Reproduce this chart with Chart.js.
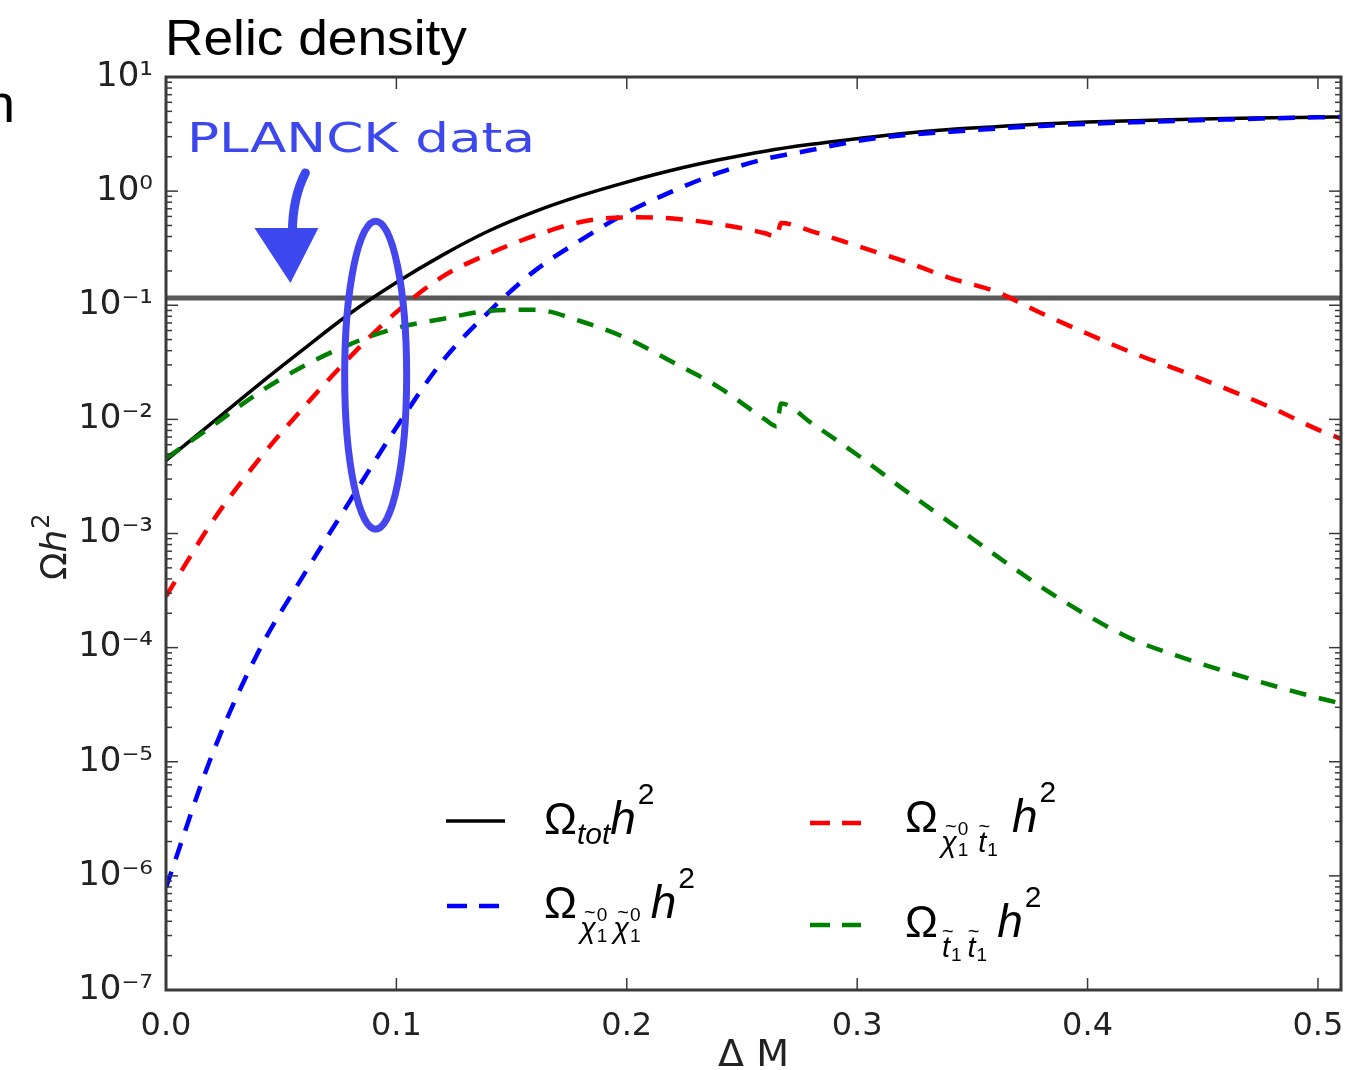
<!DOCTYPE html>
<html>
<head>
<meta charset="utf-8">
<script src="https://cdn.jsdelivr.net/npm/chart.js@4.4.0/dist/chart.umd.min.js"></script>
<style>
  html, body { margin: 0; padding: 0; background: #fff; overflow: hidden; }
  canvas { display: block; }
</style>
</head>
<body>
<canvas id="relic" width="1346" height="1070"></canvas>
<script>
// ΔM grid for the smooth curves (total and neutralino-neutralino)
var dmSmooth = [0, 0.02, 0.04, 0.06, 0.08, 0.10, 0.12, 0.14, 0.16, 0.18, 0.20, 0.22, 0.24, 0.26,
                0.28, 0.30, 0.32, 0.34, 0.36, 0.38, 0.40, 0.42, 0.44, 0.46, 0.48, 0.50, 0.51];
var omegaTot = [0.00437, 0.00933, 0.0200, 0.0417, 0.0851, 0.158, 0.275, 0.447, 0.661, 0.912, 1.20, 1.53,
                1.88, 2.24, 2.57, 2.88, 3.20, 3.47, 3.67, 3.87, 4.03, 4.14, 4.24, 4.32, 4.39, 4.44, 4.47];
var omegaChiChi = [7.9e-7, 1.15e-5, 9.1e-5, 4.4e-4, 1.95e-3, 8.5e-3, 0.0324, 0.0871, 0.200, 0.372, 0.646,
                   1.00, 1.45, 1.91, 2.29, 2.75, 3.09, 3.31, 3.53, 3.73, 3.89, 4.01, 4.13, 4.24, 4.34, 4.43, 4.47];

// ΔM grid for the coannihilation curves (they have a small jump near 0.266)
var dmCoann = [0, 0.02, 0.04, 0.06, 0.08, 0.10, 0.12, 0.14, 0.16, 0.18, 0.20, 0.22, 0.24, 0.26, 0.265, 0.267,
               0.28, 0.30, 0.32, 0.34, 0.36, 0.38, 0.40, 0.42, 0.44, 0.46, 0.48, 0.50, 0.51];
var omegaChiStop = [2.82e-4, 1.26e-3, 4.37e-3, 0.0129, 0.0355, 0.0871, 0.178, 0.282, 0.407, 0.537, 0.589,
                    0.575, 0.513, 0.427, 0.398, 0.525, 0.447, 0.331, 0.245, 0.174, 0.132, 0.0851, 0.0562,
                    0.0380, 0.0269, 0.0186, 0.0126, 0.00813, 0.00676];
var omegaStopStop = [4.57e-3, 8.71e-3, 0.0170, 0.0295, 0.0457, 0.0631, 0.0759, 0.0891, 0.0912, 0.0724,
                     0.0513, 0.0316, 0.0191, 0.0100, 8.71e-3, 0.0138, 9.33e-3, 4.90e-3, 2.45e-3, 1.26e-3,
                     6.46e-4, 3.39e-4, 1.91e-4, 1.17e-4, 8.32e-5, 6.17e-5, 4.68e-5, 3.63e-5, 3.24e-5];

var planckValue = 0.116;
var xTicks = [0, 0.1, 0.2, 0.3, 0.4, 0.5];
var yExponents = [-7, -6, -5, -4, -3, -2, -1, 0, 1];

// hand-drawn marks, placed in data coordinates
var ellipseAt = { x: 0.091, y: 0.0244 };
var arrowTipAt = { x: 0.054, y: 0.157 };

var SANS = '"Liberation Sans", Arial, sans-serif';
var DEJA = '"DejaVu Sans", sans-serif';
var supMap = { '-': '\u207B', '0': '\u2070', '1': '\u00B9', '2': '\u00B2', '3': '\u00B3',
               '4': '\u2074', '5': '\u2075', '6': '\u2076', '7': '\u2077' };

function pts(xs, ys) {
  return xs.map(function (x, i) { return { x: x, y: ys[i] }; });
}

function run(ctx, x, y, s, size, italic, fam) {
  ctx.font = (italic ? 'italic ' : '') + size + 'px ' + (fam || SANS);
  ctx.fillText(s, x, y);
  return x + ctx.measureText(s).width;
}

// symbol with tilde plus optional super/sub script, e.g. chi~^0_1
function tildeSym(ctx, x, base, ch, sup, sub) {
  ctx.font = 'italic 29px ' + SANS;
  var w = ctx.measureText(ch).width;
  ctx.fillText(ch, x, base);
  ctx.font = '20px ' + SANS;
  var tw = ctx.measureText('~').width;
  ctx.fillText('~', x + w / 2 - tw / 2 + 2, base - 19);
  var end = x + w;
  ctx.font = '19px ' + SANS;
  if (sup) { ctx.fillText(sup, x + w + 1, base - 17); end = Math.max(end, x + w + 1 + ctx.measureText(sup).width); }
  if (sub) { ctx.fillText(sub, x + w + 1, base + 4); end = Math.max(end, x + w + 1 + ctx.measureText(sub).width); }
  return end;
}

function legendLine(ctx, x1, x2, y, color, dash) {
  ctx.save();
  ctx.strokeStyle = color;
  ctx.lineWidth = dash ? 4.5 : 3.5;
  ctx.setLineDash(dash || []);
  ctx.beginPath(); ctx.moveTo(x1, y); ctx.lineTo(x2, y); ctx.stroke();
  ctx.restore();
}

var decor = {
  id: 'decor',
  beforeDraw: function (chart) {
    var ctx = chart.ctx;
    ctx.save();
    ctx.fillStyle = '#fff';
    ctx.fillRect(0, 0, chart.width, chart.height);
    ctx.restore();
  },
  afterDatasetsDraw: function (chart) {
    var ctx = chart.ctx, a = chart.chartArea;
    var xs = chart.scales.x, ys = chart.scales.y;
    ctx.save();

    // frame + inward ticks, matplotlib style
    ctx.strokeStyle = '#3a3a3a';
    ctx.lineWidth = 1.5;
    function seg(x1, y1, x2, y2) { ctx.beginPath(); ctx.moveTo(x1, y1); ctx.lineTo(x2, y2); ctx.stroke(); }
    xTicks.forEach(function (v) {
      var px = xs.getPixelForValue(v);
      seg(px, a.bottom, px, a.bottom - 12);
      seg(px, a.top, px, a.top + 12);
    });
    yExponents.forEach(function (e) {
      var py = ys.getPixelForValue(Math.pow(10, e));
      seg(a.left, py, a.left + 12, py);
      seg(a.right, py, a.right - 12, py);
      if (e < 1) {
        for (var k = 2; k <= 9; k++) {
          var pm = ys.getPixelForValue(k * Math.pow(10, e));
          seg(a.left, pm, a.left + 6, pm);
          seg(a.right, pm, a.right - 6, pm);
        }
      }
    });
    ctx.lineWidth = 3;
    ctx.strokeRect(a.left, a.top, a.right - a.left, a.bottom - a.top);

    ctx.fillStyle = '#000';
    ctx.textBaseline = 'alphabetic';
    ctx.textAlign = 'left';

    // title, fitted to its width in the slide
    ctx.font = '50px ' + SANS;
    var tw = ctx.measureText('Relic density').width;
    ctx.save();
    ctx.translate(165, 55);
    ctx.scale(302 / tw, 1);
    ctx.fillText('Relic density', 0, 0);
    ctx.restore();
    // cut-off letter from the slide on the left
    ctx.font = '54px ' + SANS;
    ctx.fillText('n', -15, 122);

    // axis titles
    ctx.fillStyle = '#222';
    ctx.font = '38px ' + DEJA;
    ctx.textAlign = 'center';
    ctx.fillText('\u0394 M', (a.left + a.right) / 2, 1066);
    ctx.textAlign = 'left';
    ctx.save();
    ctx.translate(66, 580);
    ctx.rotate(-Math.PI / 2);
    var cx = run(ctx, 0, 0, '\u03A9', 36, false, DEJA);
    cx = run(ctx, cx, 0, 'h', 36, true, DEJA);
    run(ctx, cx + 1, -17, '2', 24, false, DEJA);
    ctx.restore();

    // legend
    ctx.fillStyle = '#000';
    legendLine(ctx, 446, 505, 821, '#000', null);
    legendLine(ctx, 447, 501, 906, '#0000ff', [20, 12]);
    legendLine(ctx, 810, 861, 823, '#ff0000', [20, 12]);
    legendLine(ctx, 810, 861, 925, '#008000', [20, 12]);

    var x = run(ctx, 544, 834, '\u03A9', 44);
    x = run(ctx, x, 844, 'tot', 30, true);
    x = run(ctx, x, 834, 'h', 46, true);
    run(ctx, x + 2, 804, '2', 30);

    x = run(ctx, 544, 918, '\u03A9', 44);
    x = tildeSym(ctx, x + 3, 938, '\u03C7', '0', '1');
    x = tildeSym(ctx, x + 6, 938, '\u03C7', '0', '1');
    x = run(ctx, x + 10, 918, 'h', 46, true);
    run(ctx, x + 2, 888, '2', 30);

    x = run(ctx, 905, 832, '\u03A9', 44);
    x = tildeSym(ctx, x + 3, 852, '\u03C7', '0', '1');
    x = tildeSym(ctx, x + 10, 852, 't', null, '1');
    x = run(ctx, x + 14, 832, 'h', 46, true);
    run(ctx, x + 2, 802, '2', 30);

    x = run(ctx, 905, 937, '\u03A9', 44);
    x = tildeSym(ctx, x + 4, 957, 't', null, '1');
    x = tildeSym(ctx, x + 6, 957, 't', null, '1');
    x = run(ctx, x + 10, 937, 'h', 46, true);
    run(ctx, x + 2, 907, '2', 30);

    // hand-drawn annotation
    var blue = '#3d47ee';
    ctx.fillStyle = blue;
    ctx.strokeStyle = blue;
    ctx.font = '40px ' + DEJA;
    var pw = ctx.measureText('PLANCK data').width;
    ctx.save();
    ctx.translate(187, 152);
    ctx.scale(348 / pw, 1);
    ctx.fillText('PLANCK data', 0, 0);
    ctx.restore();

    var tx = xs.getPixelForValue(arrowTipAt.x), ty = ys.getPixelForValue(arrowTipAt.y);
    ctx.lineWidth = 9;
    ctx.lineCap = 'round';
    ctx.beginPath();
    ctx.moveTo(tx + 15, ty - 110);
    ctx.quadraticCurveTo(tx + 2, ty - 85, tx + 2, ty - 50);
    ctx.stroke();
    ctx.beginPath();
    ctx.moveTo(tx - 36, ty - 55);
    ctx.lineTo(tx + 28, ty - 55);
    ctx.lineTo(tx, ty);
    ctx.closePath();
    ctx.fill();

    var ex = xs.getPixelForValue(ellipseAt.x), ey = ys.getPixelForValue(ellipseAt.y);
    ctx.strokeStyle = '#4646ee';
    ctx.lineWidth = 7;
    ctx.beginPath();
    ctx.ellipse(ex, ey, 31, 154, 0, 0, Math.PI * 2);
    ctx.stroke();

    ctx.restore();
  }
};

var dashStyle = [17, 13];

new Chart(document.getElementById('relic'), {
  type: 'line',
  data: {
    datasets: [
      { label: 'Planck', data: pts([0, 0.51], [planckValue, planckValue]), borderColor: '#595959',
        borderWidth: 5, pointRadius: 0, order: 6 },
      { label: 'tot', data: pts(dmSmooth, omegaTot), borderColor: '#000', borderWidth: 3.5,
        pointRadius: 0, cubicInterpolationMode: 'monotone', order: 5 },
      { label: 'chi chi', data: pts(dmSmooth, omegaChiChi), borderColor: '#0000ff', borderWidth: 4.5,
        borderDash: dashStyle, pointRadius: 0, cubicInterpolationMode: 'monotone', order: 4 },
      { label: 'chi stop', data: pts(dmCoann, omegaChiStop), borderColor: '#ff0000', borderWidth: 4.5,
        borderDash: dashStyle, pointRadius: 0, cubicInterpolationMode: 'monotone', order: 3 },
      { label: 'stop stop', data: pts(dmCoann, omegaStopStop), borderColor: '#008000', borderWidth: 4.5,
        borderDash: dashStyle, pointRadius: 0, cubicInterpolationMode: 'monotone', order: 2 }
    ]
  },
  options: {
    responsive: false,
    animation: false,
    devicePixelRatio: 1,
    layout: { padding: { left: 0, top: 77, right: 5, bottom: 0 } },
    plugins: { legend: { display: false }, tooltip: { enabled: false } },
    scales: {
      x: {
        type: 'linear', min: 0, max: 0.51,
        afterBuildTicks: function (s) { s.ticks = xTicks.map(function (v) { return { value: v }; }); },
        afterFit: function (s) { s.height = 80; s.paddingLeft = 0; s.paddingRight = 0; },
        grid: { display: false }, border: { display: false },
        ticks: { autoSkip: false, maxRotation: 0, padding: 9, color: '#222',
                 font: { family: 'DejaVu Sans', size: 32 },
                 callback: function (v) { return Number(v).toFixed(1); } }
      },
      y: {
        type: 'logarithmic', min: 1e-7, max: 10,
        afterBuildTicks: function (s) {
          s.ticks = yExponents.map(function (e) { return { value: Math.pow(10, e) }; });
        },
        afterFit: function (s) { s.width = 166; s.paddingTop = 0; s.paddingBottom = 0; },
        grid: { display: false }, border: { display: false },
        ticks: { autoSkip: false, padding: 5, color: '#222',
                 font: { family: 'DejaVu Sans', size: 34 },
                 callback: function (v) {
                   var e = Math.round(Math.log10(v));
                   return '10' + String(e).split('').map(function (c) { return supMap[c]; }).join('');
                 } }
      }
    }
  },
  plugins: [decor]
});
</script>
</body>
</html>
